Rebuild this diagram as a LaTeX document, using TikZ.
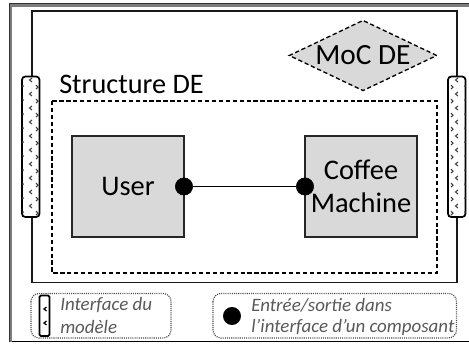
\documentclass[tikz,border=0pt]{standalone}
\usepackage{fontspec}
\setmainfont{Carlito}
\usetikzlibrary{shapes.geometric}
\definecolor{boxgray}{RGB}{217,217,217}
\definecolor{notegray}{RGB}{89,89,89}
\definecolor{dotgray}{RGB}{60,60,60}
\definecolor{framegray}{RGB}{125,125,125}
\tikzset{
  x=0.75pt,y=-0.75pt,
  compbox/.style={draw=black!85,line width=1.3pt,fill=boxgray,minimum width=84pt,minimum height=76pt,inner sep=0pt,align=center,font=\fontsize{21.3}{25}\selectfont},
  portdot/.style={circle,fill=black,draw=black,minimum size=13pt,inner sep=0pt},
  portbar/.style={draw=black,line width=1.3pt,rounded corners=2.5pt,fill=white},
  dashbox/.style={draw=black,line width=1pt,dash pattern=on 3.2pt off 2pt},
  notebox/.style={draw=black!70,line width=0.9pt,dash pattern=on 0.8pt off 0.8pt,rounded corners=6pt},
  notetxt/.style={text=notegray,font=\fontsize{14.2}{16}\itshape\selectfont,align=left,inner sep=0pt,anchor=west},
  chev/.style={draw=dotgray,line width=0.8pt}
}
\begin{document}
\begin{tikzpicture}
\useasboundingbox (0,0) rectangle (469,344);
% outer frame
\draw[draw=framegray,line width=1.6pt] (469,5.5) -- (10.5,5.5) -- (10.5,342);
\draw[draw=black!80,line width=0.6pt] (469,3.8) -- (9,3.8) -- (9,342);
\draw[draw=black,line width=0.8pt] (12,341.5) -- (469,341.5);
% model frame
\draw[draw=black!90,line width=1.3pt] (32,11) rectangle (457,282.5);
% ports
\foreach \px in {22,448}{
  \draw[portbar] (\px,76.5) rectangle (\px+17.5,217);
}
\foreach \yy in {80,94,...,215}{
  \draw[chev] (32,\yy-2)--(29.5,\yy)--(32,\yy+2);
  \draw[chev] (36,\yy+5)--(38,\yy+7)--(36,\yy+9);
  \fill[dotgray] (23,\yy+6) circle (1);
  \draw[chev] (458,\yy-2)--(455.5,\yy)--(458,\yy+2);
  \draw[chev] (451,\yy+5)--(453,\yy+7)--(451,\yy+9);
  \fill[dotgray] (465,\yy+6) circle (1);
}
% diamond
\node[diamond,aspect=2.08,draw=black,line width=1pt,dash pattern=on 3.2pt off 2pt,fill=boxgray,minimum width=111pt,minimum height=53pt,inner sep=0pt,font=\fontsize{22}{26}\selectfont] (moc) at (363,55.5) {\raisebox{-1.3pt}{MoC DE}};
% structure
\node[anchor=base west,inner sep=0pt,font=\fontsize{21.2}{26}\selectfont] (stlabel) at (59,93) {Structure DE};
\draw[dashbox] (52,101) rectangle (437,273);
\node[compbox] (user) at (128,186.5) {User};
\node[compbox] (coffee) at (361,186.5) {\raisebox{-1.4pt}{Coffee}\\\raisebox{-1.4pt}{Machine}};
\node[portdot] (pu) at (184,186.5) {};
\node[portdot] (pc) at (305,186.5) {};
\draw[line width=1.4pt] (pu) -- (pc);
% legend
\draw[notebox] (31,293.5) rectangle (171,338);
\draw[notebox] (213,293.5) rectangle (456.5,338);
\draw[draw=black,line width=1.3pt,rounded corners=1pt,fill=white] (39.5,295.5) rectangle (49.5,336);
\foreach \yy in {309,323}{
  \draw[chev,draw=black,line width=0.9pt] (46.5,\yy-2)--(44,\yy)--(46.5,\yy+2);
}
\node[portdot] (lp) at (232,316) {};
\node[notetxt] (n1a) at (60,305) {Interface du};
\node[notetxt] (n1b) at (60,327) {modèle};
\node[notetxt] (n2a) at (251,305) {Entrée/sortie dans};
\node[notetxt] (n2b) at (251,327) {l’interface d’un composant};
\end{tikzpicture}
\end{document}
